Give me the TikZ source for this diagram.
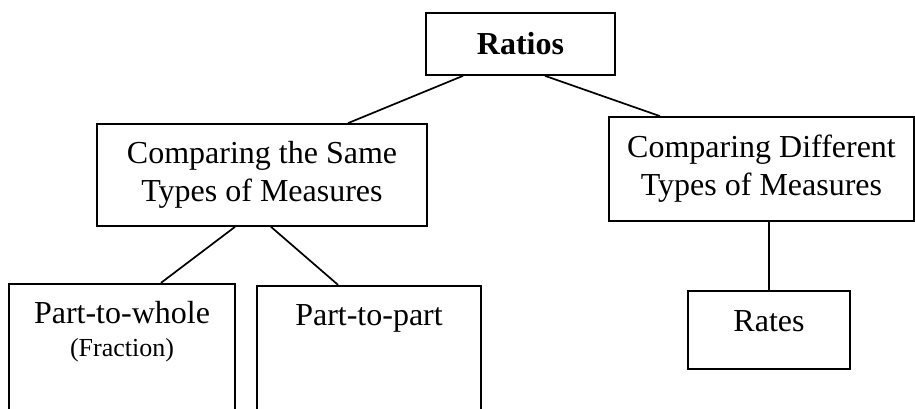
\documentclass[tikz,border=0pt]{standalone}
\usepackage{fontspec}
\setmainfont{Liberation Serif}
\usetikzlibrary{positioning}
\tikzset{block/.style={draw, line width=1.7pt, align=center, fill=white, inner sep=0pt, font=\fontsize{32}{37.7}\selectfont}}
\tikzset{openblock/.style={block, anchor=north}}
\tikzset{connect/.style={draw, line width=1.7pt}}

\begin{document}
\begin{tikzpicture}[x=1pt,y=1pt]

\useasboundingbox (0,0) rectangle (915,409);
\clip (0,0) rectangle (915,409);

%ratios
\node[block,minimum height=62pt,minimum width=189pt,font=\bfseries\fontsize{32}{37.7}\selectfont] (ratios) at (520.5,365) {Ratios};

%same types
\node[block,minimum height=102pt,minimum width=330pt] (same) at([xshift=-258.5pt,yshift=-131pt]ratios) {Comparing the Same\\Types of Measures};
%different types
\node[block,minimum height=104pt,minimum width=305pt] (diff) at([xshift=241pt,yshift=-125pt]ratios) {Comparing Different\\Types of Measures};

%part to whole
\node[openblock] (whole) at([xshift=-140pt,yshift=-56pt]same.south) {\parbox[c][150pt][t]{226pt}{\centering\vspace*{18pt}Part-to-whole\\{\fontsize{26}{32.3}\selectfont (Fraction)\par}}};
%part to part
\node[openblock] (part) at([xshift=107pt,yshift=-58pt]same.south) {\parbox[c][150pt][t]{224pt}{\centering\vspace*{19pt}Part-to-part}};
%rates
\node[openblock] (rates) at([xshift=7.5pt,yshift=-68pt]diff.south) {\parbox[c][78pt][t]{162pt}{\centering\vspace*{20pt}Rates}};

%links
\path[connect] ([xshift=-57.5pt]ratios.south) -- ([xshift=86pt]same.north);
\path[connect] ([xshift=24.5pt]ratios.south) -- ([xshift=-101.5pt]diff.north);
\path[connect] ([xshift=-27pt]same.south) -- ([xshift=39pt]whole.north);
\path[connect] ([xshift=9pt]same.south) -- ([xshift=-31pt]part.north);
\path[connect] (diff.south -| rates.north) -- (rates.north);

\end{tikzpicture}
\end{document}
